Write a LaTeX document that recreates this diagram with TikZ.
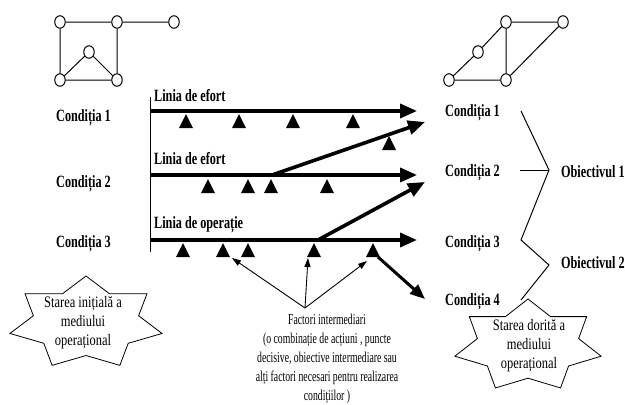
\documentclass[tikz,border=0pt]{standalone}
\usepackage{fontspec}
\usetikzlibrary{arrows.meta,shapes.geometric}
\newfontfamily\bfTimes{Liberation Serif}[FakeStretch=0.71]
\newfontfamily\rgTimes{Liberation Serif}[FakeStretch=0.65]
\newfontfamily\stTimes{Liberation Serif}[FakeStretch=0.78]
% 7-point star: cx, cy, Rx, Ry  (inner ratio 0.692)
\newcommand\starseven[4]{%
  \draw[line width=0.8pt,fill=white]
    ({#1-0.975*#3},{#2+0.2225*#4}) -- ({#1-0.975*0.692*#3},{#2-0.2225*0.692*#4})
 -- ({#1-0.782*#3},{#2-0.6235*#4}) -- ({#1-0.434*0.692*#3},{#2-0.901*0.692*#4})
 -- ({#1},{#2-#4}) -- ({#1+0.434*0.692*#3},{#2-0.901*0.692*#4})
 -- ({#1+0.782*#3},{#2-0.6235*#4}) -- ({#1+0.975*0.692*#3},{#2-0.2225*0.692*#4})
 -- ({#1+0.975*#3},{#2+0.2225*#4}) -- ({#1+0.782*0.692*#3},{#2+0.6235*0.692*#4})
 -- ({#1+0.434*#3},{#2+0.901*#4}) -- ({#1},{#2+0.692*#4})
 -- ({#1-0.434*#3},{#2+0.901*#4}) -- ({#1-0.782*0.692*#3},{#2+0.6235*0.692*#4})
 -- cycle;}
\newcommand\tri[2]{\fill ({#1-7},#2) -- ({#1+7},#2) -- (#1,{#2-14}) -- cycle;}
\begin{document}
\begin{tikzpicture}[x=1pt,y=-1pt,
  gnode/.style={draw,ellipse,minimum width=10.5pt,minimum height=12.5pt,inner sep=0pt,line width=1pt,fill=white},
  gedge/.style={line width=1pt},
  cond/.style={font=\bfTimes\bfseries\fontsize{17.2}{19}\selectfont,anchor=base west,inner sep=0pt},
  regtext/.style={font=\rgTimes\fontsize{15}{19}\selectfont,align=center,inner sep=0pt},
  startext/.style={font=\stTimes\fontsize{16}{19}\selectfont,align=center,inner sep=0pt},
  mainarrow/.style={line width=3.6pt,-{Triangle[length=17pt,width=14pt]}},
  thinarrow/.style={line width=0.9pt,-{Triangle[length=9pt,width=6pt]}},
  bracket/.style={line width=1pt}]
\useasboundingbox (0,0) rectangle (625,405);
\fill[white] (0,0) rectangle (625,405);

% left graph
\node[gnode] (a1) at (60,22) {};
\node[gnode] (a2) at (117,22) {};
\node[gnode] (a3) at (174,22) {};
\node[gnode] (a4) at (89,52) {};
\node[gnode] (a5) at (60,80) {};
\node[gnode] (a6) at (117,80) {};
\draw[gedge] (a1) -- (a2) (a2) -- (a3) (a1) -- (a5) (a2) -- (a6) (a5) -- (a6) (a5) -- (a4) (a4) -- (a6);
% right graph
\node[gnode] (b1) at (449,80) {};
\node[gnode] (b2) at (478,52) {};
\node[gnode] (b3) at (506,22) {};
\node[gnode] (b4) at (563,22) {};
\node[gnode] (b5) at (506,80) {};
\draw[gedge] (b1) -- (b2) (b2) -- (b3) (b3) -- (b4) (b3) -- (b5) (b1) -- (b5) (b5) -- (b4);

% left labels
\node[cond] (lc1) at (56,121) {Condiția 1};
\node[cond] (lc2) at (56,187) {Condiția 2};
\node[cond] (lc3) at (56,247) {Condiția 3};
% right labels
\node[cond] (rc1) at (445,116) {Condiția 1};
\node[cond] (rc2) at (445,176) {Condiția 2};
\node[cond] (rc3) at (445,247) {Condiția 3};
\node[cond] (rc4) at (445,305) {Condiția 4};
\node[cond] (ob1) at (561,177) {Obiectivul 1};
\node[cond] (ob2) at (561,268) {Obiectivul 2};
% line labels
\node[cond] (ll1) at (154,101) {Linia de efort};
\node[cond] (ll2) at (154,164) {Linia de efort};
\node[cond] (ll3) at (154,228) {Linia de operație};

% vertical line
\coordinate (vt) at (150,97);
\coordinate (vb) at (150,252);
\draw[line width=1pt] (vt) -- (vb);

% main arrows
\coordinate (s1) at (150,111); \coordinate (e1) at (417,111);
\coordinate (s2) at (150,175); \coordinate (e2) at (417,175);
\coordinate (s3) at (150,240); \coordinate (e3) at (417,240);
\coordinate (d1s) at (272,175); \coordinate (d1e) at (425,122);
\coordinate (d2s) at (318,240); \coordinate (d2e) at (425,182);
\coordinate (d3s) at (378,257); \coordinate (d3e) at (425,299);
\draw[mainarrow] (s1) -- (e1);
\draw[mainarrow] (s2) -- (e2);
\draw[mainarrow] (s3) -- (e3);
\draw[mainarrow] (d1s) -- (d1e);
\draw[mainarrow] (d2s) -- (d2e);
\draw[line width=3pt,-{Triangle[length=15pt,width=12pt]}] (d3s) -- (d3e);

% triangles
\tri{186}{128}\tri{239}{128}\tri{293}{128}\tri{353}{128}
\tri{389}{150}
\tri{208}{193}\tri{248}{193}\tri{271}{193}\tri{327}{193}
\tri{183}{257}\tri{223}{257}\tri{248}{257}\tri{314}{257}\tri{373}{257}

% factori
\coordinate (ap) at (305,308);
\coordinate (t1) at (232,258);
\coordinate (t2) at (308,258);
\coordinate (t3) at (367,261);
\draw[thinarrow] (ap) -- (t1);
\draw[thinarrow] (ap) -- (t2);
\draw[thinarrow] (ap) -- (t3);
\node[regtext,anchor=north] (fac) at (327,314) {Factori intermediari\\(o combinație de acțiuni , puncte\\decisive, obiective intermediare sau\\alți factori necesari pentru realizarea\\condițiilor )};

% bracket
\coordinate (k1) at (521,111);
\coordinate (k2) at (549,170);
\coordinate (k2l) at (520,170);
\coordinate (k3) at (521,240);
\coordinate (k4) at (549,265);
\coordinate (k5) at (521,300);
\draw[bracket] (k1) -- (k2) -- (k3) -- (k4) -- (k5);
\draw[bracket] (k2l) -- (k2);

% stars
\starseven{86}{323}{78}{47}
\node[startext,anchor=base] (st1) at (83,345) {Starea inițială a\\mediului\\operațional};
\starseven{528}{345.8}{75}{46.8}
\node[startext,anchor=base] (st2) at (529,368) {Starea dorită a\\mediului\\operațional};
\end{tikzpicture}
\end{document}
